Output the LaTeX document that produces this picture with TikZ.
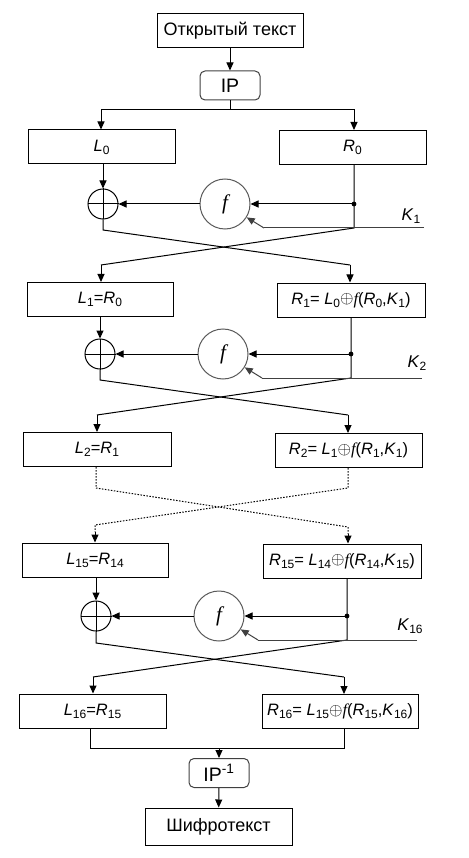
\documentclass[tikz,border=0pt]{standalone}
\usepackage{fontspec}
\setmainfont{Liberation Sans}
\newfontfamily\seriff{Liberation Serif}
\usetikzlibrary{arrows.meta}
\newcommand{\sbs}[1]{\raisebox{-0.35ex}{\fontsize{12}{12}\selectfont #1}}
\newcommand{\vv}[2]{\textit{#1}\sbs{#2}}
\newcommand{\ff}{{\seriff\itshape f}}
\newcommand{\xo}{\raisebox{0.05ex}{$\oplus$}}
\begin{document}
\begin{tikzpicture}[x=1pt,y=-1pt,
  ln/.style={line width=1pt},
  arr/.style={ln,-{Triangle[length=8pt,width=7pt]}},
  dots/.style={ln,dash pattern=on 1.5pt off 1.5pt},
  box/.style={draw,ln,minimum height=34pt,inner sep=0pt,font=\fontsize{16.5}{18}\selectfont},
  bigbox/.style={box,font=\fontsize{18}{20}\selectfont},
  rbox/.style={bigbox,rounded corners=5pt,draw=black!75,minimum height=29pt,minimum width=60pt,font=\fontsize{19.5}{20}\selectfont},
  xorc/.style={circle,draw,ln,minimum size=30pt,inner sep=0pt},
  fc/.style={circle,draw=black!65,ln,minimum size=50pt,inner sep=0pt,font=\fontsize{21}{22}\selectfont},
  kl/.style={font=\fontsize{17}{18}\selectfont,inner sep=0pt}]
\useasboundingbox (0,0) rectangle (468,858);

% top
\node[bigbox,minimum width=146pt] (pt) at (230,31) {Открытый текст};
\node[rbox] (ip) at (230,85.5) {IP};
\node[box,minimum width=147pt] (L0) at (101.5,147) {\vv{L}{0}};
\node[box,minimum width=147pt] (R0) at (352.5,147.5) {\vv{R}{0}};
\coordinate (sp) at (230,110);
\draw[arr] (pt) -- (ip);
\draw[ln] (ip.south) -- (sp);
\draw[arr] (sp) -| (L0.north -| 101,0);
\draw[arr] (sp) -| (R0.north -| 354,0);

% round 1
\node[xorc] (x1) at (103,204) {};
\draw[ln] (x1.north) -- (x1.south) (x1.west) -- (x1.east);
\node[fc] (f1) at (225,204) {\ff};
\coordinate (d1) at (354,204);
\coordinate (j1) at (354,228);
\coordinate (k1) at (424,228);
\coordinate (ke1) at (264,228);
\node[kl] (K1) at (411,216) {\vv{K}{1}};
\coordinate (a1) at (103,230);
\coordinate (b1) at (350,265);
\coordinate (c1) at (101,265);

\node[box,minimum width=146pt] (L1) at (100,299.5) {\vv{L}{1}=\vv{R}{0}};
\node[box,minimum width=148pt] (R1) at (351,300) {\vv{R}{1}= \vv{L}{0}\xo\ff(\vv{R}{0},\vv{K}{1})};

\draw[arr] (L0.south -| x1) -- (x1.north);
\draw[ln] (R0.south -| d1) -- (j1) -- (c1);
\draw[arr] (c1) -- (L1.north -| c1);
\fill (d1) circle (2.4pt);
\draw[arr] (d1) -- (f1);
\draw[arr] (f1) -- (x1);
\draw[ln,black!75] (k1) -- (ke1);
\draw[arr,black!75] (ke1) -- (f1);
\draw[ln] (x1.south) -- (a1) -- (b1);
\draw[arr] (b1) -- (R1.north -| b1);

% round 2
\node[xorc] (x2) at (100,354) {};
\draw[ln] (x2.north) -- (x2.south) (x2.west) -- (x2.east);
\node[fc] (f2) at (223,354) {\ff};
\coordinate (d2) at (351,354);
\coordinate (j2) at (351,378);
\coordinate (k2) at (422,378);
\coordinate (ke2) at (262,378);
\node[kl] (K2) at (417,363) {\vv{K}{2}};
\coordinate (a2) at (100,380);
\coordinate (b2) at (348,415);
\coordinate (c2) at (97,415);

\node[box,minimum width=148pt] (L2) at (97,449.5) {\vv{L}{2}=\vv{R}{1}};
\node[box,minimum width=147pt] (R2) at (348.5,450.5) {\vv{R}{2}= \vv{L}{1}\xo\ff(\vv{R}{1},\vv{K}{1})};

\draw[arr] (L1.south -| x2) -- (x2.north);
\draw[ln] (R1.south -| d2) -- (j2) -- (c2);
\draw[arr] (c2) -- (L2.north -| c2);
\fill (d2) circle (2.4pt);
\draw[arr] (d2) -- (f2);
\draw[arr] (f2) -- (x2);
\draw[ln,black!75] (k2) -- (ke2);
\draw[arr,black!75] (ke2) -- (f2);
\draw[ln] (x2.south) -- (a2) -- (b2);
\draw[arr] (b2) -- (R2.north -| b2);

% dotted section
\coordinate (p1) at (96,488);
\coordinate (p2) at (348,527);
\coordinate (q1) at (348,488);
\coordinate (q2) at (95,525);

\node[box,minimum width=146pt] (L15) at (95,560) {\vv{L}{15}=\vv{R}{14}};
\node[box,minimum width=158pt] (R15) at (342,561) {\vv{R}{15}= \vv{L}{14}\xo\ff(\vv{R}{14},\vv{K}{15})};

\draw[dots] (L2.south -| p1) -- (p1) -- (p2) -- (p2 |- 0,534);
\draw[arr] (p2 |- 0,534) -- (R15.north -| p2);
\draw[dots] (R2.south -| q1) -- (q1) -- (q2) -- (q2 |- 0,532);
\draw[arr] (q2 |- 0,532) -- (L15.north -| q2);

% round 16
\node[xorc] (x3) at (96,616) {};
\draw[ln] (x3.north) -- (x3.south) (x3.west) -- (x3.east);
\node[fc] (f3) at (219,616) {\ff};
\coordinate (d3) at (347,616);
\coordinate (j3) at (347,640);
\coordinate (k3) at (417,640);
\coordinate (ke3) at (258,640);
\node[kl] (K3) at (410,626) {\vv{K}{16}};
\coordinate (a3) at (96,643);
\coordinate (b3) at (344,677);
\coordinate (c3) at (93,677);

\node[box,minimum width=147pt] (L16) at (92.5,711) {\vv{L}{16}=\vv{R}{15}};
\node[box,minimum width=156pt] (R16) at (340,711.5) {\vv{R}{16}= \vv{L}{15}\xo\ff(\vv{R}{15},\vv{K}{16})};

\draw[arr] (L15.south -| x3) -- (x3.north);
\draw[ln] (R15.south -| d3) -- (j3) -- (c3);
\draw[arr] (c3) -- (L16.north -| c3);
\fill (d3) circle (2.4pt);
\draw[arr] (d3) -- (f3);
\draw[arr] (f3) -- (x3);
\draw[ln,black!75] (k3) -- (ke3);
\draw[arr,black!75] (ke3) -- (f3);
\draw[ln] (x3.south) -- (a3) -- (b3);
\draw[arr] (b3) -- (R16.north -| b3);

% bottom
\node[rbox] (ipi) at (219,773) {IP\textsuperscript{-1}};
\node[bigbox,minimum width=147pt,minimum height=37pt] (ct) at (218.5,826.5) {Шифротекст};
\coordinate (m1) at (90,748);
\coordinate (m2) at (344,748);
\draw[ln] (L16.south -| m1) -- (m1) -- (m2) -- (R16.south -| m2);
\draw[arr] (ipi.north |- m1) -- (ipi.north);
\draw[arr] (ipi) -- (ct);
\end{tikzpicture}
\end{document}
